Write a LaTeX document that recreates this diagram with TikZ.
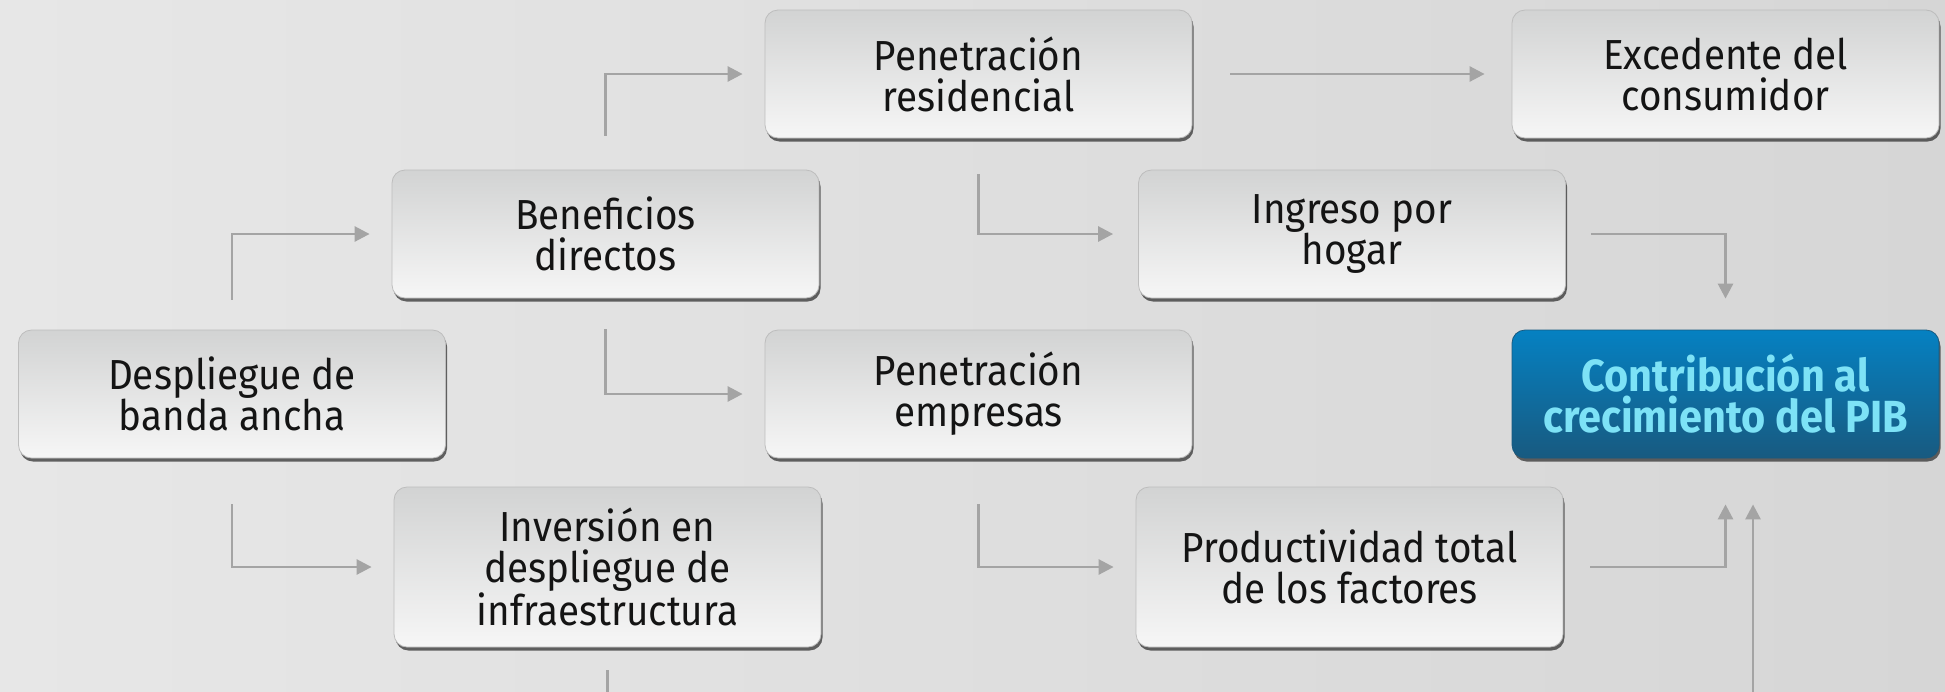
\documentclass[tikz,border=0pt]{standalone}
\usepackage{fontspec}
\setmainfont{Fira Sans}[FakeStretch=0.92]
\usetikzlibrary{shadows,arrows.meta}
\definecolor{bgleft}{HTML}{E7E7E7}
\definecolor{bgright}{HTML}{D6D6D6}
\definecolor{boxtop}{HTML}{D2D3D3}
\definecolor{boxbottom}{HTML}{F6F6F6}
\definecolor{boxline}{HTML}{BDBDBD}
\definecolor{linkgray}{HTML}{A4A4A4}
\definecolor{bluetop}{HTML}{0581C2}
\definecolor{bluebottom}{HTML}{185A80}
\definecolor{bluetext}{HTML}{7DE2F6}
\begin{document}
\begin{tikzpicture}[x=1pt,y=-1pt]
    \tikzstyle{every node}+=[inner sep=0pt]
    \tikzstyle{box}=[rectangle, rounded corners=13pt, minimum width=427pt, minimum height=128pt,
        top color=boxtop, bottom color=boxbottom, draw=boxline, line width=0.8pt,
        drop shadow={shadow xshift=1.5pt, shadow yshift=-3.5pt, fill=black!80, opacity=0.75},
        align=center, text=black!92, font=\fontsize{42}{41}\selectfont]
    \tikzstyle{tallbox}=[box, minimum height=160pt]
    \tikzstyle{goalbox}=[box, top color=bluetop, bottom color=bluebottom, draw=bluebottom,
        text=bluetext, font=\fontsize{45}{41}\selectfont\bfseries]
    \tikzstyle{link}=[draw=linkgray, line width=2.7pt, -{Triangle[length=15pt,width=15pt]}]
    \useasboundingbox (0,0) rectangle (1945,691);
    \clip (0,0) rectangle (1945,691);
    \shade [left color=bgleft, right color=bgright] (0,0) rectangle (1945,691);
    \node [box] (desp) at (232,394) {Despliegue de\\banda ancha};
    \node [box] (benef) at (605.5,234) {Beneficios\\directos};
    \node [tallbox] (inv) at (607.5,567) {Inversión en\\despliegue de\\infraestructura};
    \node [box] (pres) at (978.5,74) {Penetración\\residencial};
    \node [box] (pemp) at (978.5,394) {Penetración\\empresas};
    \node [box] (ingr) at (1352,234) {Ingreso por\\hogar};
    \node [tallbox] (prod) at (1349.5,567) {Productividad total\\de los factores};
    \node [box] (excd) at (1725.5,74) {Excedente del\\consumidor};
    \node [goalbox] (contr) at (1725.5,394) {Contribución al\\crecimiento del PIB};
    \coordinate (under) at (1753,730);
    \draw [link] ([yshift=30pt]desp.north) |- ([xshift=-22pt]benef.west);
    \draw [link] ([yshift=-46pt]desp.south) |- ([xshift=-22pt]inv.west);
    \draw [link] ([yshift=34pt]benef.north) |- ([xshift=-22pt]pres.west);
    \draw [link] ([yshift=-31pt]benef.south) |- ([xshift=-22pt]pemp.west);
    \draw [link] ([xshift=38pt]pres.east) -- ([xshift=-27pt]excd.west);
    \draw [link] ([yshift=-36pt]pres.south) |- ([xshift=-25pt]ingr.west);
    \draw [link] ([yshift=-46pt]pemp.south) |- ([xshift=-22pt]prod.west);
    \draw [link] ([xshift=25pt]ingr.east) -| ([yshift=31pt]contr.north);
    \draw [link] ([xshift=27pt]prod.east) -| ([yshift=-46pt]contr.south);
    \draw [link] ([yshift=-23pt]inv.south) |- (under) -- ([xshift=27.5pt,yshift=-46pt]contr.south);
\end{tikzpicture}
\end{document}
